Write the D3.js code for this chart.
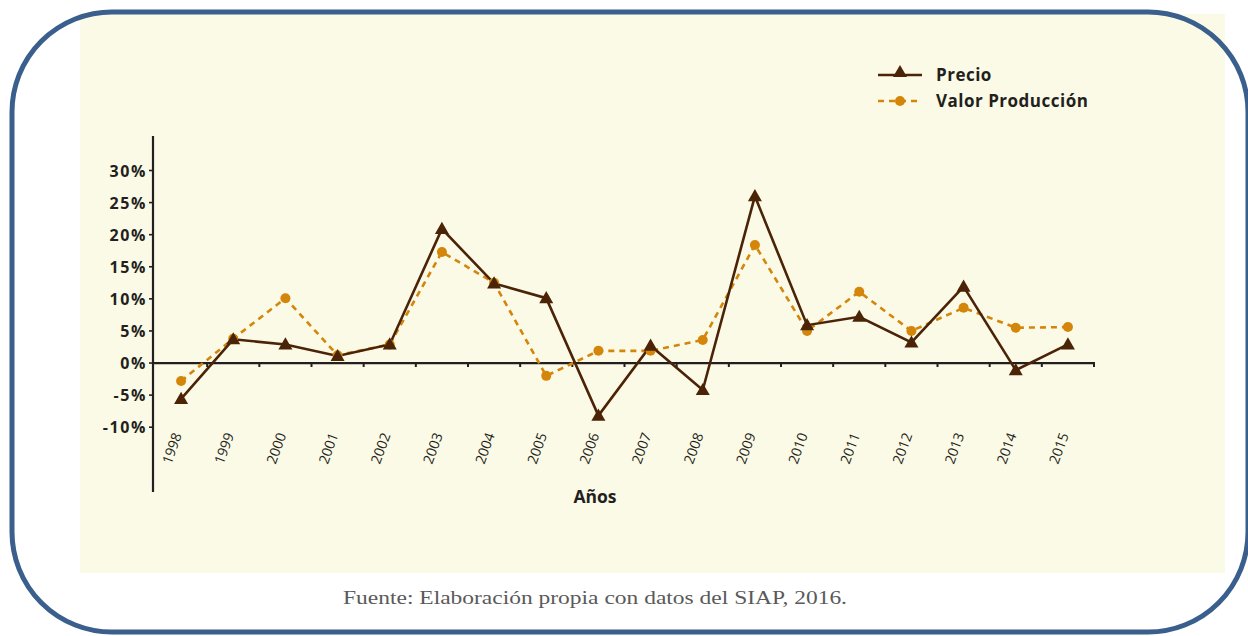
<!DOCTYPE html>
<html>
<head>
<meta charset="utf-8">
<script src="https://cdn.jsdelivr.net/npm/d3@7"></script>
<style>
  body { margin: 0; background: #fff; }
  svg { display: block; }
</style>
</head>
<body>
<div id="chart"></div>
<script>
const years = ["1998","1999","2000","2001","2002","2003","2004","2005","2006","2007","2008","2009","2010","2011","2012","2013","2014","2015"];
const precio = [-5.6, 3.7, 2.9, 1.1, 2.9, 20.9, 12.4, 10.1, -8.2, 2.7, -4.2, 26.0, 5.9, 7.2, 3.2, 11.9, -1.1, 2.9];
const valorProduccion = [-2.8, 3.8, 10.1, 1.2, 2.9, 17.3, 12.5, -2.0, 1.9, 1.9, 3.6, 18.4, 5.0, 11.1, 5.0, 8.6, 5.5, 5.6];
const yTicks = [-10, -5, 0, 5, 10, 15, 20, 25, 30];

const W = 1248, H = 636;
const brown = "#4b2307", orange = "#d4860b";
const sans = "'Open Sans', 'DejaVu Sans', sans-serif";

const svg = d3.select("#chart").append("svg")
    .attr("width", W)
    .attr("height", H);

// panel background
svg.append("rect")
    .attr("x", 80).attr("y", 14)
    .attr("width", 1145).attr("height", 559)
    .attr("fill", "#fbfae6");

// rounded frame
svg.append("rect")
    .attr("x", 12).attr("y", 12)
    .attr("width", 1236).attr("height", 620)
    .attr("rx", 100).attr("ry", 100)
    .attr("fill", "none")
    .attr("stroke", "#3a5f8d")
    .attr("stroke-width", 5);

const x = d3.scaleBand().domain(years).range([155, 1094]);
const y = d3.scaleLinear().domain([-10, 30]).range([427.2, 170.5]);
const cx = d => x(d) + x.bandwidth() / 2;

// y axis
svg.append("line")
    .attr("x1", 153).attr("x2", 153)
    .attr("y1", 136).attr("y2", 492)
    .attr("stroke", "#231f20").attr("stroke-width", 2.2);

const yAxis = svg.append("g");
yAxis.selectAll("line").data(yTicks).join("line")
    .attr("x1", 149).attr("x2", 153)
    .attr("y1", d => y(d)).attr("y2", d => y(d))
    .attr("stroke", "#231f20").attr("stroke-width", 1.6);
yAxis.selectAll("text").data(yTicks).join("text")
    .attr("x", 147)
    .attr("y", d => y(d) + 6)
    .attr("text-anchor", "end")
    .attr("font-family", sans)
    .attr("font-weight", 700)
    .attr("font-size", 16)
    .attr("letter-spacing", 1.6)
    .attr("fill", "#231f20")
    .text(d => d + "%");

// x axis at zero
svg.append("line")
    .attr("x1", 153).attr("x2", 1095)
    .attr("y1", y(0)).attr("y2", y(0))
    .attr("stroke", "#231f20").attr("stroke-width", 2.2);

const bounds = years.slice(1).map(d => x(d)).concat([1094]);
svg.append("g").selectAll("line").data(bounds).join("line")
    .attr("x1", d => d).attr("x2", d => d)
    .attr("y1", y(0)).attr("y2", y(0) + 4)
    .attr("stroke", "#231f20").attr("stroke-width", 2);

// year labels
svg.append("g").selectAll("text").data(years).join("text")
    .attr("transform", d => `translate(${cx(d) + 1},435) rotate(-70)`)
    .attr("text-anchor", "end")
    .attr("font-family", sans)
    .attr("font-size", 14)
    .attr("fill", "#231f20")
    .text(d => d);

svg.append("text")
    .attr("x", 595).attr("y", 503)
    .attr("text-anchor", "middle")
    .attr("font-family", sans)
    .attr("font-weight", 700)
    .attr("font-size", 17.5)
    .attr("fill", "#231f20")
    .text("Años");

// series
const line = d3.line().x(d => cx(d[0])).y(d => y(d[1]));
const valorPts = years.map((d, i) => [d, valorProduccion[i]]);
const precioPts = years.map((d, i) => [d, precio[i]]);

svg.append("path")
    .datum(valorPts)
    .attr("d", line)
    .attr("fill", "none")
    .attr("stroke", orange)
    .attr("stroke-width", 2.6)
    .attr("stroke-dasharray", "6,5");

svg.append("path")
    .datum(precioPts)
    .attr("d", line)
    .attr("fill", "none")
    .attr("stroke", brown)
    .attr("stroke-width", 2.6);

const tri = d3.symbol().type(d3.symbolTriangle).size(85);

svg.append("g").selectAll("circle").data(valorPts).join("circle")
    .attr("cx", d => cx(d[0]))
    .attr("cy", d => y(d[1]))
    .attr("r", 5)
    .attr("fill", orange);

svg.append("g").selectAll("path").data(precioPts).join("path")
    .attr("d", tri)
    .attr("transform", d => `translate(${cx(d[0])},${y(d[1]) + 1})`)
    .attr("fill", brown);

// legend
const legend = svg.append("g");
legend.append("line")
    .attr("x1", 878).attr("x2", 922)
    .attr("y1", 75).attr("y2", 75)
    .attr("stroke", brown).attr("stroke-width", 2.6);
legend.append("path")
    .attr("d", tri)
    .attr("transform", "translate(900,73)")
    .attr("fill", brown);
legend.append("text")
    .attr("x", 936).attr("y", 81)
    .attr("font-family", sans).attr("font-weight", 700)
    .attr("font-size", 17).attr("letter-spacing", 0.5)
    .attr("fill", "#231f20")
    .text("Precio");

legend.append("line")
    .attr("x1", 878).attr("x2", 922)
    .attr("y1", 101).attr("y2", 101)
    .attr("stroke", orange).attr("stroke-width", 2.6)
    .attr("stroke-dasharray", "6,5");
legend.append("circle")
    .attr("cx", 900).attr("cy", 101).attr("r", 5)
    .attr("fill", orange);
legend.append("text")
    .attr("x", 936).attr("y", 107)
    .attr("font-family", sans).attr("font-weight", 700)
    .attr("font-size", 17).attr("letter-spacing", 0.5)
    .attr("fill", "#231f20")
    .text("Valor Producción");

// source
svg.append("text")
    .attr("x", 343).attr("y", 604)
    .attr("font-family", "'Liberation Serif', 'DejaVu Serif', serif")
    .attr("font-size", 19)
    .attr("textLength", 504)
    .attr("lengthAdjust", "spacingAndGlyphs")
    .attr("fill", "#5a5a5a")
    .text("Fuente: Elaboración propia con datos del SIAP, 2016.");
</script>
</body>
</html>
